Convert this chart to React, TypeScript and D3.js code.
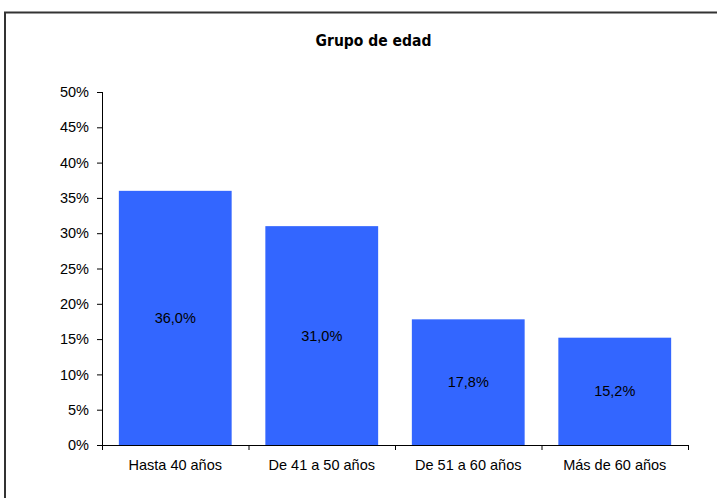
import React, { useEffect, useRef } from "react";
import * as d3 from "d3";

const categories = ["Hasta 40 años", "De 41 a 50 años", "De 51 a 60 años", "Más de 60 años"];
const values = [36.0, 31.0, 17.8, 15.2];
const yTicks = [0, 5, 10, 15, 20, 25, 30, 35, 40, 45, 50];
const title = "Grupo de edad";

const W = 717;
const H = 498;
const M = { left: 102, right: 688, top: 92, bottom: 445 };

export default function App() {
  const ref = useRef<SVGSVGElement>(null);
  useEffect(() => {
    const svg = d3.select(ref.current);
    svg.selectAll("*").remove();

    svg.append("rect").attr("x", 0).attr("y", 0).attr("width", W).attr("height", H).attr("fill", "#fff");
    svg.append("path")
      .attr("d", `M5,${H + 5} L5,12.5 L${W + 5},12.5`)
      .attr("fill", "none").attr("stroke", "#333").attr("stroke-width", 2);

    svg.append("text")
      .attr("x", 373.5).attr("y", 45.5)
      .attr("text-anchor", "middle")
      .attr("font-family", "'DejaVu Sans Condensed', 'DejaVu Sans', Tahoma, sans-serif")
      .attr("font-stretch", "condensed")
      .attr("font-weight", "bold").attr("font-size", 15.5)
      .attr("fill", "#000")
      .text(title);

    const x = d3.scaleBand<string>().domain(categories).range([M.left, M.right]).paddingInner(0.23).paddingOuter(0.115);
    const y = d3.scaleLinear().domain([0, 50]).range([M.bottom, M.top]);

    svg.append("g").selectAll("rect").data(values).join("rect")
      .attr("x", (_, i) => x(categories[i])!)
      .attr("y", (d) => y(d))
      .attr("width", x.bandwidth())
      .attr("height", (d) => y(0) - y(d))
      .attr("fill", "#3366FF");

    svg.append("g").selectAll("text").data(values).join("text")
      .attr("x", (_, i) => x(categories[i])! + x.bandwidth() / 2)
      .attr("y", (d) => (y(d) + y(0)) / 2)
      .attr("dy", "0.35em")
      .attr("text-anchor", "middle")
      .attr("font-family", "'Liberation Sans', Arial, sans-serif")
      .attr("font-size", 14.5)
      .attr("fill", "#000")
      .text((d) => d.toFixed(1).replace(".", ",") + "%");

    const fmt = (d: number) => `${d}%`;
    const yAxis = svg.append("g").attr("transform", `translate(${M.left},0)`)
      .call(d3.axisLeft(y).tickValues(yTicks).tickFormat(fmt as any).tickSize(5).tickPadding(8));
    yAxis.select(".domain").attr("d", `M0.5,${M.top}V${M.bottom}`).attr("stroke", "#000");
    yAxis.selectAll("text").attr("font-family", "'Liberation Sans', Arial, sans-serif").attr("font-size", 14.5).attr("fill", "#000");

    const step = (M.right - M.left) / categories.length;
    const xTickPos = d3.range(categories.length + 1).map((i) => M.left + i * step);
    const xa = svg.append("g").attr("transform", `translate(0,${M.bottom})`);
    xa.append("path").attr("d", `M${M.left},0.5H${M.right}`).attr("stroke", "#000").attr("fill", "none");
    xa.selectAll("line").data(xTickPos).join("line")
      .attr("x1", (d) => d + 0.5).attr("x2", (d) => d + 0.5).attr("y1", 0).attr("y2", 5)
      .attr("stroke", "#000");
    xa.selectAll("text").data(categories).join("text")
      .attr("x", (d) => x(d)! + x.bandwidth() / 2)
      .attr("y", 25)
      .attr("text-anchor", "middle")
      .attr("font-family", "'Liberation Sans', Arial, sans-serif")
      .attr("font-size", 14.5)
      .attr("fill", "#000")
      .text((d) => d);
  }, []);
  return (
    <svg ref={ref} width={W} height={H} style={{ position: "absolute", left: 0, top: 0 }} />
  );
}
